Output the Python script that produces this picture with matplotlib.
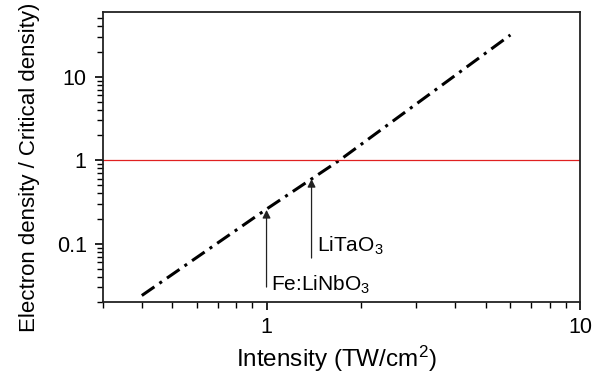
import numpy as np
import matplotlib
matplotlib.use("Agg")
import matplotlib.pyplot as plt
from matplotlib.ticker import LogLocator, NullFormatter, FixedLocator, FixedFormatter

plt.rcParams['font.family'] = ['Liberation Sans', 'DejaVu Sans']
plt.rcParams['mathtext.fontset'] = 'custom'
plt.rcParams['mathtext.rm'] = 'Liberation Sans'
plt.rcParams['mathtext.it'] = 'Liberation Sans'

# data
intensity = [0.4, 1.0, 1.71, 6.0]
density = [0.024, 0.26, 1.0, 31.6]
critical = 1.0

# arrows: x, tip y, tail y
arrow_x = [1.0, 1.392]
arrow_tip = [0.254, 0.596]
arrow_tail = [0.0303, 0.0674]
arrow_labels = ['Fe:LiNbO$_3$', 'LiTaO$_3$']
label_pos = [(1.03, 0.032), (1.45, 0.095)]

fig = plt.figure(figsize=(6.13, 3.73), dpi=100)
ax = fig.add_axes([0.1675, 0.19, 0.7785, 0.777])

ax.plot(intensity, density, color='black', lw=2.2, linestyle=(0, (5, 2, 1, 2)))
ax.axhline(critical, color='#e02020', lw=0.9)

for x, tip, tail, lab, pos in zip(arrow_x, arrow_tip, arrow_tail, arrow_labels, label_pos):
    ax.annotate('', xy=(x, tip), xytext=(x, tail),
                arrowprops=dict(arrowstyle='-|>', color='#222222', lw=0.9,
                                mutation_scale=12, shrinkA=0, shrinkB=0))
    ax.text(pos[0], pos[1], lab, fontsize=15, ha='left', va='center')

ax.set_xscale('log')
ax.set_yscale('log')
ax.set_xlim(0.3, 10)
ax.set_ylim(0.02, 59)

ax.xaxis.set_major_locator(FixedLocator([1, 10]))
ax.xaxis.set_major_formatter(FixedFormatter(['1', '10']))
ax.xaxis.set_minor_locator(LogLocator(base=10, subs=np.arange(2, 10)))
ax.xaxis.set_minor_formatter(NullFormatter())
ax.yaxis.set_major_locator(FixedLocator([0.1, 1, 10]))
ax.yaxis.set_major_formatter(FixedFormatter(['0.1', '1', '10']))
ax.yaxis.set_minor_locator(LogLocator(base=10, subs=np.arange(2, 10)))
ax.yaxis.set_minor_formatter(NullFormatter())

ax.tick_params(which='major', direction='out', length=6, width=1.2, labelsize=15.5)
ax.tick_params(axis='y', which='major', pad=5.5)
ax.tick_params(axis='x', which='major', pad=4.5)
ax.tick_params(which='minor', direction='out', length=4, width=1.0)
ax.tick_params(top=False, right=False)
for s in ax.spines.values():
    s.set_linewidth(1.3)
    s.set_color('#222222')

ax.set_xlabel('Intensity (TW/cm$^2$)', fontsize=17.5)
ax.xaxis.set_label_coords(0.49, -0.145)
ax.set_ylabel('Electron density / Critical density)', fontsize=16)
ax.yaxis.set_label_coords(-0.132, 0.465)

fig.savefig('out.png', dpi=100)
